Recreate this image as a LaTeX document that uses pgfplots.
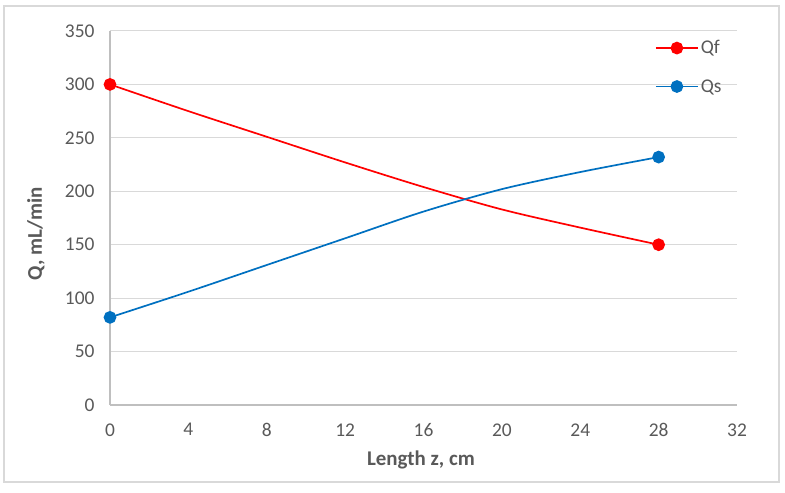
\documentclass[border=0pt]{standalone}
\usepackage{pgfplots}
\pgfplotsset{compat=1.18}
\usepackage{fontspec}
\setmainfont{Carlito}
\definecolor{tickgray}{RGB}{89,89,89}
\definecolor{gridgray}{RGB}{217,217,217}
\definecolor{axgray}{RGB}{191,191,191}
\definecolor{qfred}{RGB}{255,0,0}
\definecolor{qsblue}{RGB}{0,112,192}
\begin{document}
\begin{tikzpicture}[x=1bp,y=1bp]
\path (-110,-88) rectangle (675,405);
\draw[gridgray,line width=1.2bp] (-106,-77) rectangle (669,399);
\begin{axis}[
  at={(0,0)}, anchor=origin,
  scale only axis, width=627bp, height=374bp,
  xmin=0, xmax=32, ymin=0, ymax=350,
  xtick={0,4,...,32}, ytick={0,50,...,350},
  axis x line=bottom, axis y line=left,
  axis line style={axgray, line width=1.2bp, -},
  x axis line style={-}, y axis line style={-},
  ymajorgrids, grid style={gridgray, line width=1bp},
  major tick length=0pt,
  tick label style={font=\fontsize{19.5}{22}\selectfont, text=tickgray},
  /pgf/number format/assume math mode=true,
  xticklabel style={yshift=-15bp},
  yticklabel style={xshift=-12bp},
  xlabel={\textbf{Length z, cm}},
  ylabel={\textbf{Q, mL/min}},
  label style={font=\fontsize{21}{24}\selectfont, text=tickgray},
  xlabel style={at={(axis description cs:0.496,-0.147)}, anchor=center},
  ylabel style={at={(axis description cs:-0.118,0.457)}, anchor=center},
  legend style={at={(0.869,0.980)}, anchor=north west, draw=none, fill=none,
    inner sep=0pt, row sep=20bp, font=\fontsize{19.5}{22}\selectfont, text=tickgray},
  legend cell align=left,
  legend image code/.code={\draw[mark indices={2}] plot coordinates {(0bp,0bp) (21bp,0bp) (42bp,0bp)};},
]
\addplot[qfred, line width=1.7bp, smooth, mark=*, mark size=5.5bp, mark indices={1,8}, mark options={solid}]
  coordinates {(0,300)(4,275)(8,251)(12,227)(16,204)(20,183)(24,166)(28,150)};
\addlegendentry{Qf}
\addplot[qsblue, line width=1.7bp, smooth, mark=*, mark size=5.5bp, mark indices={1,8}, mark options={solid}]
  coordinates {(0,82)(4,106)(8,131)(12,156)(16,181)(20,202)(24,218)(28,232)};
\addlegendentry{Qs}
\end{axis}
\end{tikzpicture}
\end{document}
